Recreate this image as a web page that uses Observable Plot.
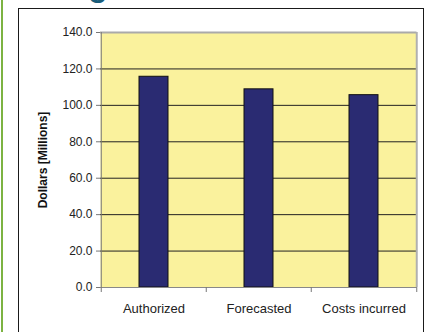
<!DOCTYPE html>
<html>
<head>
<meta charset="utf-8">
<script src="https://cdn.jsdelivr.net/npm/d3@7"></script>
<script src="https://cdn.jsdelivr.net/npm/@observablehq/plot@0.6"></script>
<style>
  html, body { margin: 0; padding: 0; background: #fff; }
  #wrap { position: relative; width: 431px; height: 332px; overflow: hidden; background: #fff; font-family: "Liberation Sans", Arial, sans-serif; }
  #greenbar { position: absolute; left: 1px; top: 0; width: 2px; height: 332px; background: #7cb342; }
  #heading { position: absolute; left: 26px; top: -31px; font: bold 32px/32px "Liberation Sans", Arial, sans-serif; color: #1b5d7a; white-space: nowrap; }
  #frame { position: absolute; left: 18px; top: 8px; width: 404px; height: 400px; border: 1px solid #1a1a1a; }
  #chart { position: absolute; left: 0; top: 0; }
</style>
</head>
<body>
<div id="wrap">
  <div id="heading">Budget</div>
  <div id="greenbar"></div>
  <div id="frame"></div>
  <div id="chart"></div>
</div>
<script>
// Data
const categories = ["Authorized", "Forecasted", "Costs incurred"];
const values = [115.7, 108.8, 105.6];
const yTicks = [0, 20, 40, 60, 80, 100, 120, 140];
const gridTicks = [20, 40, 60, 80, 100, 120];
const yLabel = "Dollars [Millions]";

const data = categories.map((c, i) => ({category: c, value: values[i]}));

const W = 431, H = 332;
const mL = 100, mR = 14.5, mT = 32, mB = 45;
const step = (W - mL - mR) / categories.length;
const first = categories.slice(0, 1);
const last = categories.slice(-1);

const chart = Plot.plot({
  width: W,
  height: H,
  marginLeft: mL,
  marginRight: mR,
  marginTop: mT,
  marginBottom: mB,
  style: {fontFamily: "'Liberation Sans', Arial, sans-serif", background: "transparent", color: "#222"},
  x: {domain: categories, paddingInner: 0.725, paddingOuter: 0.3625, align: 0.5, axis: null},
  y: {domain: [0, 140], axis: null},
  marks: [
    Plot.frame({fill: "#faf29d", stroke: "none"}),
    Plot.ruleY(gridTicks, {stroke: "#222", strokeWidth: 1}),
    Plot.ruleY([140], {stroke: "#aaa", strokeWidth: 2}),
    Plot.ruleX(last, {x: d => d, dx: step / 2, stroke: "#b0b0b0", strokeWidth: 2}),
    Plot.barY(data, {x: "category", y: "value", fill: "#2a2b72", stroke: "#111", strokeWidth: 1}),
    Plot.ruleY([0], {stroke: "#888", strokeWidth: 1}),
    Plot.ruleX(first, {x: d => d, dx: -step / 2, stroke: "#777", strokeWidth: 1}),
    Plot.ruleX(categories, {x: d => d, dx: -step / 2, y1: 0, y2: 0, insetBottom: -5, stroke: "#777"}),
    Plot.ruleX(last, {x: d => d, dx: step / 2, y1: 0, y2: 0, insetBottom: -5, stroke: "#777"}),
    Plot.axisY(yTicks, {
      tickSize: 4, tickPadding: 4, stroke: "#777",
      tickFormat: d => d.toFixed(1), fontSize: 12, fill: "#222", label: null
    }),
    Plot.axisX(categories, {tickSize: 0, tickPadding: 16, fontSize: 13, fill: "#222", label: null}),
    Plot.text([yLabel], {
      frameAnchor: "left", textAnchor: "middle", dx: -57, rotate: -90, text: d => d,
      fontWeight: "bold", fontSize: 12, fill: "#111"
    })
  ]
});
document.getElementById("chart").appendChild(chart);
</script>
</body>
</html>
